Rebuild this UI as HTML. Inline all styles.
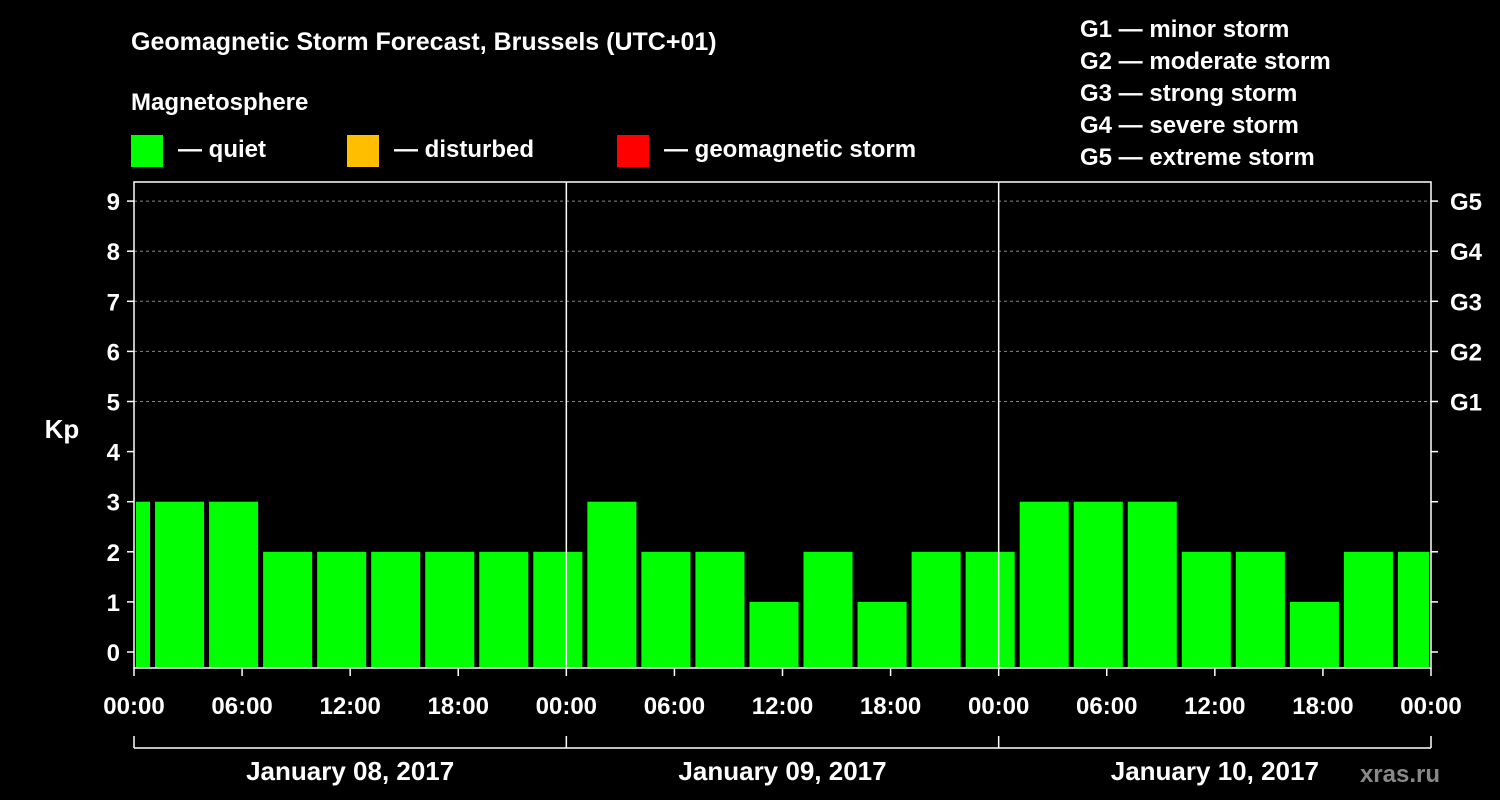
<!DOCTYPE html>
<html><head><meta charset="utf-8"><style>
body{margin:0;background:#000;}
svg{display:block;font-family:"Liberation Sans",Arial,sans-serif;font-weight:bold;}
</style></head><body>
<svg id="chart" width="1500" height="800" viewBox="0 0 1500 800">
<rect x="0" y="0" width="1500" height="800" fill="#000"/>
<text x="131" y="50" fill="#fff" font-size="25">Geomagnetic Storm Forecast, Brussels (UTC+01)</text>
<text x="131" y="110" fill="#fff" font-size="24">Magnetosphere</text>
<g><rect x="131" y="135" width="32" height="32" fill="#00ff00"/><text x="178" y="157" fill="#fff" font-size="24">— quiet</text></g>
<g><rect x="347" y="135" width="32" height="32" fill="#ffbf00"/><text x="394" y="157" fill="#fff" font-size="24">— disturbed</text></g>
<g><rect x="617" y="135" width="32" height="32" fill="#ff0000"/><text x="664" y="157" fill="#fff" font-size="24">— geomagnetic storm</text></g>
<g fill="#fff" font-size="24">
<text x="1080" y="37">G1 — minor storm</text>
<text x="1080" y="69">G2 — moderate storm</text>
<text x="1080" y="101">G3 — strong storm</text>
<text x="1080" y="133">G4 — severe storm</text>
<text x="1080" y="165">G5 — extreme storm</text>
</g>
<text x="62" y="438" fill="#fff" font-size="26" text-anchor="middle">Kp</text>
<text x="1440" y="782" fill="#888" font-size="24" text-anchor="end">xras.ru</text>
<g id="plot"></g>
</svg>
<script>
const kpValues=[3,3,3,2,2,2,2,2,2,3,2,2,1,2,1,2,2,3,3,3,2,2,1,2,2];
const yTicks=[0,1,2,3,4,5,6,7,8,9];
const gLabels=["G1","G2","G3","G4","G5"];
const gLevels=[5,6,7,8,9];
const xTickLabels=["00:00","06:00","12:00","18:00","00:00","06:00","12:00","18:00","00:00","06:00","12:00","18:00","00:00"];
const dayLabels=["January 08, 2017","January 09, 2017","January 10, 2017"];
const NS="http://www.w3.org/2000/svg";
const L=134,R=1431,T=182,B=668;
const xs=h=>L+(R-L)*h/72;
const ys=v=>652-v*50.1;
const g=document.getElementById('plot');
function mk(t,a,txt){const e=document.createElementNS(NS,t);for(const k in a)e.setAttribute(k,a[k]);if(txt!==undefined)e.textContent=txt;g.appendChild(e);return e;}
// grid
gLevels.forEach((v,i)=>{
 const l=mk('line',{x1:L,x2:R,y1:ys(v),y2:ys(v),stroke:'#888','stroke-dasharray':'3,3','stroke-width':1});
 
 
 const t=mk('text',{x:1450,y:ys(v)+9,fill:'#fff','font-size':24},gLabels[i]);
 
 
});
// bars
kpValues.forEach((v,i)=>{
 const h0=3*i-2,h1=3*i+1;
 let x0=xs(h0)+3,x1=xs(h1)-2;
 if(x0<L+2)x0=L+2;
 if(x1>R-2)x1=R-2;
 const c=v>=5?'#ff0000':(v>=4?'#ffbf00':'#00ff00');
 const r=mk('rect',{x:x0,y:ys(v),width:x1-x0,height:B-ys(v),fill:c});
 
 
});
// frame
const f=mk('rect',{x:L,y:T,width:R-L,height:B-T,fill:'none',stroke:'#fff','stroke-width':1.5});


[24,48].forEach(h=>{const l=mk('line',{x1:xs(h),x2:xs(h),y1:T,y2:B,stroke:'#fff','stroke-width':1.5});
 
 });
// y ticks
yTicks.forEach(v=>{
 mk('line',{x1:L-7,x2:L,y1:ys(v),y2:ys(v),stroke:'#fff','stroke-width':1.5});
 mk('line',{x1:R,x2:R+7,y1:ys(v),y2:ys(v),stroke:'#fff','stroke-width':1.5});
 const t=mk('text',{x:L-14,y:ys(v)+9,fill:'#fff','font-size':24,'text-anchor':'end'},String(v));
 
 
});
// x ticks
xTickLabels.forEach((s,i)=>{
 const x=xs(i*6);
 mk('line',{x1:x,x2:x,y1:B,y2:B+8,stroke:'#fff','stroke-width':1.5});
 const t=mk('text',{x:x,y:714,fill:'#fff','font-size':24,'text-anchor':'middle'},s);
 
 
});
// day bracket
const br=mk('line',{x1:L,x2:R,y1:748,y2:748,stroke:'#fff','stroke-width':1.5});


[0,24,48,72].forEach(h=>mk('line',{x1:xs(h),x2:xs(h),y1:736,y2:748,stroke:'#fff','stroke-width':1.5}));
dayLabels.forEach((s,i)=>{
 const t=mk('text',{x:xs(24*i+12),y:780,fill:'#fff','font-size':26,'text-anchor':'middle'},s);
 
 
});
</script>
</body></html>
